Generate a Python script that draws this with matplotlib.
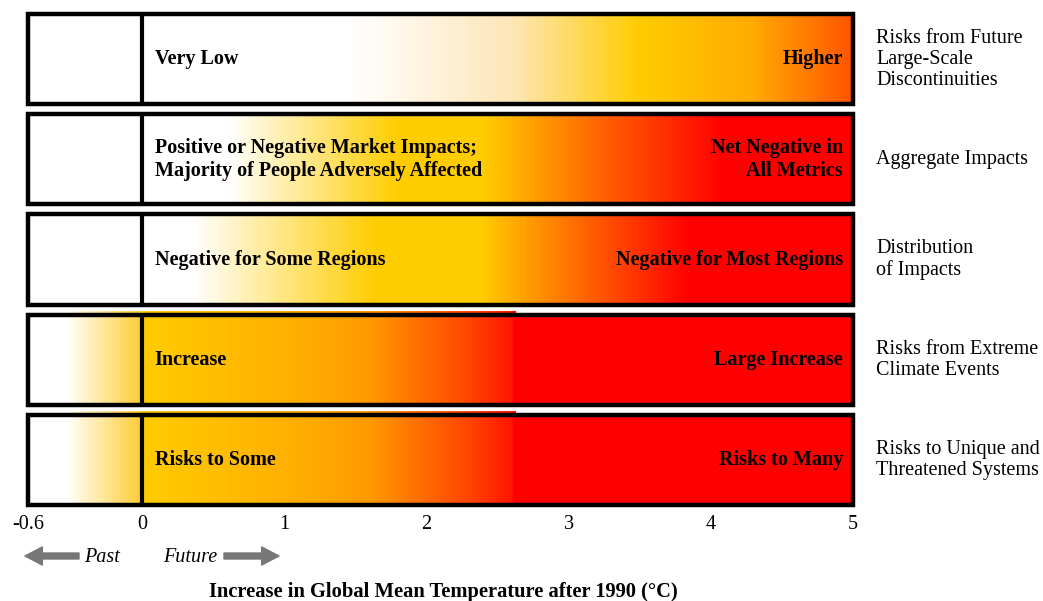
import numpy as np
import matplotlib
matplotlib.use("Agg")
import matplotlib.pyplot as plt
from matplotlib.colors import LinearSegmentedColormap

plt.rcParams['font.family'] = ['Liberation Serif', 'DejaVu Serif']

# ---------------- data ----------------
categories = ["Risks from Future\nLarge-Scale\nDiscontinuities",
              "Aggregate Impacts",
              "Distribution\nof Impacts",
              "Risks from Extreme\nClimate Events",
              "Risks to Unique and\nThreatened Systems"]
low_labels = ["Very Low",
              "Positive or Negative Market Impacts;\nMajority of People Adversely Affected",
              "Negative for Some Regions",
              "Increase",
              "Risks to Some"]
high_labels = ["Higher",
               "Net Negative in\nAll Metrics",
               "Negative for Most Regions",
               "Large Increase",
               "Risks to Many"]
# colour stops (temperature, colour) for the future part (0..5 °C)
future_stops = [
    [(0.0, '#FFFFFF'), (1.45, '#FFFFFF'), (2.6, '#FDE6B8'), (3.5, '#FFCC00'), (4.3, '#FFAA00'), (5.0, '#FF5500')],
    [(0.0, '#FFFFFF'), (0.6, '#FFFFFF'), (1.8, '#FFCC00'), (2.4, '#FFCC00'), (3.2, '#FF6600'), (4.1, '#FF0000'), (5.0, '#FF0000')],
    [(0.0, '#FFFFFF'), (0.35, '#FFFFFF'), (1.65, '#FFCC00'), (2.38, '#FFCC00'), (3.1, '#FF6600'), (3.85, '#FF0000'), (5.0, '#FF0000')],
    [(0.0, '#FFCC00'), (1.2, '#FFAA00'), (1.6, '#FF9900'), (2.3, '#FF4400'), (2.6, '#FF1500'), (2.62, '#FF0000'), (5.0, '#FF0000')],
    [(0.0, '#FFCC00'), (1.2, '#FFAA00'), (1.6, '#FF9900'), (2.3, '#FF4400'), (2.6, '#FF1500'), (2.62, '#FF0000'), (5.0, '#FF0000')],
]
# colour stops for the past part (-0.6..0 °C)
past_stops = [
    [(-0.6, '#FFFFFF'), (0.0, '#FFFFFF')],
    [(-0.6, '#FFFFFF'), (0.0, '#FFFFFF')],
    [(-0.6, '#FFFFFF'), (0.0, '#FFFFFF')],
    [(-0.6, '#FFFFFF'), (-0.4, '#FFFFFF'), (0.0, '#FFCC33')],
    [(-0.6, '#FFFFFF'), (-0.4, '#FFFFFF'), (0.0, '#FFCC33')],
]
stripe_rows = [3, 4]      # rows with a thin coloured stripe on top
stripe_end = 2.63
tick_values = [-0.6, 0, 1, 2, 3, 4, 5]
tick_labels = ['-0.6', '0', '1', '2', '3', '4', '5']
xlabel = "Increase in Global Mean Temperature after 1990 (\u00b0C)"

# ---------------- figure ----------------
W, H = 1043, 601
fig = plt.figure(figsize=(W / 100, H / 100), dpi=100)
ax = fig.add_axes([28 / W, (H - 505) / H, 825 / W, 491 / H])

fwd = lambda x: np.where(np.asarray(x) < 0, np.asarray(x) * 4 / 3, np.asarray(x))
inv = lambda y: np.where(np.asarray(y) < 0, np.asarray(y) * 3 / 4, np.asarray(y))
ax.set_xscale('function', functions=(fwd, inv))
ax.set_xlim(-0.6, 5)
ax.set_ylim(0, 4.9)


def colours(stops, x):
    lo, hi = stops[0][0], stops[-1][0]
    pos = [(t - lo) / (hi - lo) for t, _ in stops]
    cmap = LinearSegmentedColormap.from_list('c', list(zip(pos, [c for _, c in stops])))
    return cmap((x - lo) / (hi - lo))[:, :3]


def band(stops, y0, y1, n=500, xmax=None):
    lo, hi = stops[0][0], stops[-1][0]
    if xmax is not None:
        hi = min(hi, xmax)
    xe = np.linspace(lo, hi, n + 1)
    xc = 0.5 * (xe[1:] + xe[:-1])
    c = colours(stops, xc)[None, :, :]
    ax.pcolormesh(xe, [y0, y1], c, shading='flat', edgecolors='none',
                  antialiased=False)


FS = 14.5
LS = 1.2
n = len(categories)
for i in range(n):
    y0 = n - 1 - i
    y1 = y0 + 0.9
    band(past_stops[i], y0, y1)
    band(future_stops[i], y0, y1)
    if i in stripe_rows:
        band(past_stops[i], y1, y1 + 0.035)
        band(future_stops[i], y1, y1 + 0.035, xmax=stripe_end)
    ax.add_patch(plt.Rectangle((-0.6, y0), 5.6, 0.9, fill=False, ec='black', lw=3.2,
                               clip_on=False, zorder=5))
    ax.plot([0, 0], [y0, y1], color='black', lw=3, zorder=5, solid_capstyle='butt')
    ym = y0 + 0.45
    ax.text(0.09, ym, low_labels[i], ha='left', va='center', fontsize=FS,
            fontweight='bold', linespacing=LS, zorder=6)
    ax.text(4.93, ym, high_labels[i], ha='right', va='center', fontsize=FS,
            fontweight='bold', linespacing=LS, multialignment='right', zorder=6)
    ax.text(5.162, ym, categories[i], ha='left', va='center', fontsize=FS,
            linespacing=LS * 0.95, clip_on=False)

for s in ax.spines.values():
    s.set_visible(False)
ax.set_yticks([])
ax.set_xticks(tick_values)
ax.set_xticklabels(tick_labels, fontsize=14.5)
ax.tick_params(axis='x', length=0, pad=7)

# Past / Future arrows
grey = '#777777'
arr = 'simple,head_length=12.5,head_width=13,tail_width=4.3'
ax.annotate('', xy=(25, H - 556), xytext=(79, H - 556), xycoords='figure pixels',
            textcoords='figure pixels',
            arrowprops=dict(arrowstyle=arr, color=grey, mutation_scale=1, shrinkA=0, shrinkB=0))
ax.annotate('', xy=(279, H - 556), xytext=(224, H - 556), xycoords='figure pixels',
            textcoords='figure pixels',
            arrowprops=dict(arrowstyle=arr, color=grey, mutation_scale=1, shrinkA=0, shrinkB=0))
fig.text(102 / W, 1 - 558 / H, 'Past', ha='center', va='center', fontsize=14.5, style='italic')
fig.text(190 / W, 1 - 558 / H, 'Future', ha='center', va='center', fontsize=14.5, style='italic')

fig.text(443 / W, 1 - 592 / H, xlabel, ha='center', va='center', fontsize=14.8, fontweight='bold')

fig.savefig('out.png', dpi=100)
